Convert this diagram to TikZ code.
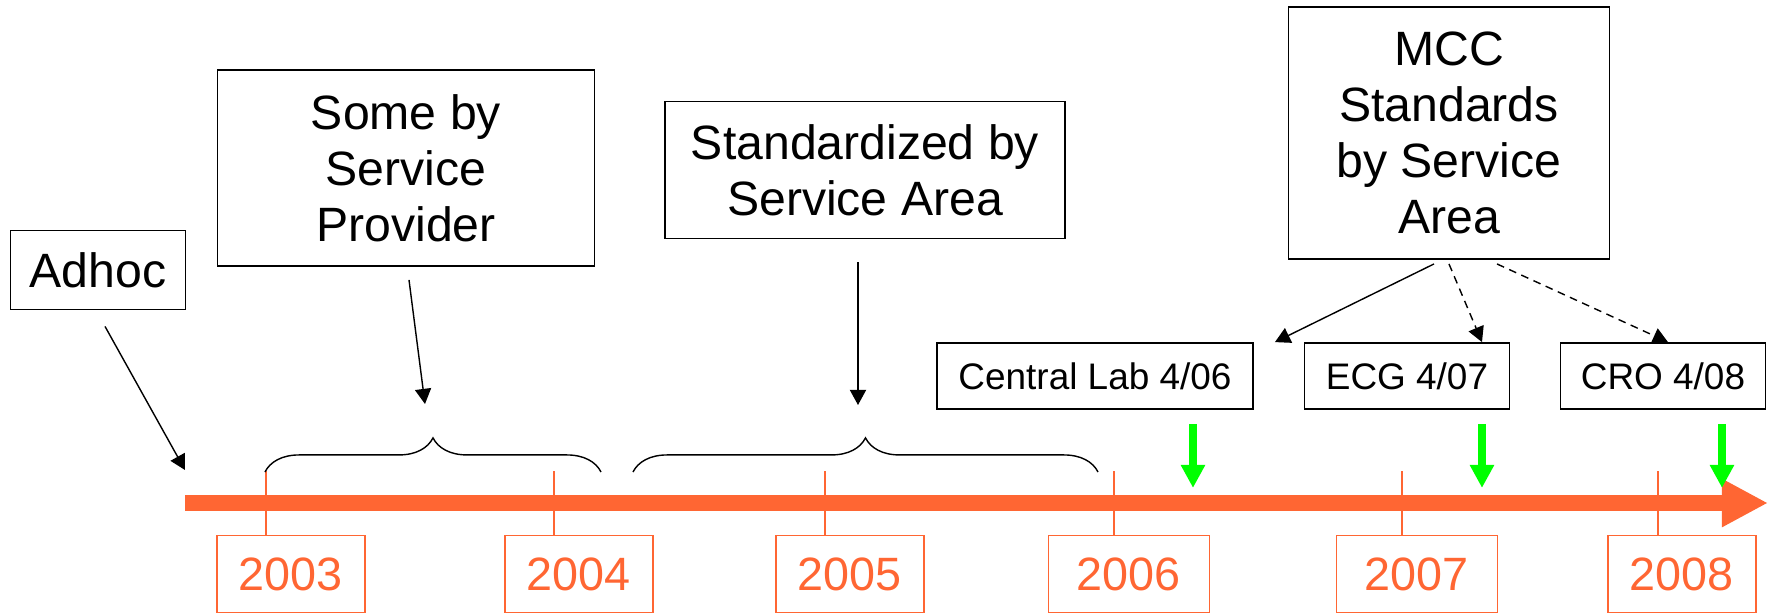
\documentclass[tikz,border=0pt]{standalone}
\usepackage{fontspec}
\setmainfont{Liberation Sans}
\usetikzlibrary{positioning,calc,arrows.meta,decorations.pathreplacing}

\definecolor{tlorange}{RGB}{255,102,51}
\definecolor{tlgreen}{RGB}{0,255,0}

\begin{document}
\begin{tikzpicture}[x=0.01cm, y=-0.01cm,
		box/.style={draw, line width=0.5pt, align=center, inner sep=0pt, font=\fontsize{13.7}{15.9}\selectfont},
		release/.style={draw, line width=0.5pt, inner sep=0pt, minimum height=0.66cm, font=\fontsize{10.5}{12}\selectfont},
		year/.style={draw=tlorange, text=tlorange, line width=0.4pt, inner sep=0pt, minimum height=0.77cm, font=\fontsize{13.3}{15}\selectfont},
		tick/.style={draw=tlorange, line width=0.4pt},
		timeline/.style={draw=tlorange, line width=0.16cm, -{Triangle[length=0.46cm, width=0.45cm]}},
		milestone/.style={draw=tlgreen, line width=0.08cm, -{Triangle[length=0.23cm, width=0.23cm]}},
		link/.style={line width=0.4pt, -{Triangle[length=4.3pt, width=4.6pt]}},
		later/.style={link, dash pattern=on 2.2pt off 1.6pt},
		curly/.style={line width=0.4pt, decorate, decoration={brace, amplitude=9.7pt}}]
		\useasboundingbox (0,0) rectangle (1768,615);

		\node[box, minimum width=1.75cm, minimum height=0.79cm] (adhoc) at (98,270) {Adhoc};
		\node[box, minimum width=3.77cm, minimum height=1.96cm] (provider) at (406,168) {Some by\\Service\\Provider};
		\node[box, minimum width=4cm, minimum height=1.37cm] (area) at (865,170) {Standardized by\\Service Area};
		\node[box, minimum width=3.21cm, minimum height=2.52cm] (mcc) at (1449,133) {MCC\\Standards\\by Service\\Area};

		\node[release, minimum width=3.16cm] (lab) at (1095,376) {Central Lab 4/06};
		\node[release, minimum width=2.05cm] (ecg) at (1407,376) {ECG 4/07};
		\node[release, minimum width=2.05cm] (cro) at (1663,376) {CRO 4/08};

		\node[year, minimum width=1.48cm] (y2003) at (291,574) {2003};
		\node[year, minimum width=1.48cm] (y2004) at (579,574) {2004};
		\node[year, minimum width=1.48cm] (y2005) at (850,574) {2005};
		\node[year, minimum width=1.61cm] (y2006) at (1129,574) {2006};
		\node[year, minimum width=1.61cm] (y2007) at (1417,574) {2007};
		\node[year, minimum width=1.48cm] (y2008) at (1682,574) {2008};

		\coordinate (start) at (185,503);
		\coordinate (end) at (1768,503);
		\coordinate (span1) at (433,438);
		\coordinate (span2) at (865,439);

		\foreach \tx/\yr in {266/2003, 554/2004, 825/2005, 1114/2006, 1402/2007, 1658/2008}
			\draw[tick] (\tx,471) -- (\tx,0 |- y\yr.north);
		\draw[timeline] (start) -- (end);

		\draw[curly] (265,472) -- (601,472);
		\draw[curly] (633,472) -- (1098,472);

		\draw[link] ($(adhoc.south)+(7,16)$) -- ($(start)+(0,-33)$);
		\draw[link] ($(provider.south)+(3,13)$) -- ($(span1)+(-8,-34)$);
		\draw[link] ($(area.south)+(-7,23)$) -- ($(span2)+(-7,-34)$);

		\draw[link] ($(mcc.south)+(-15,4)$) -- ($(lab.north east)+(21,0)$);
		\draw[later] ($(mcc.south)+(0,4)$) -- ($(ecg.north)+(75,0)$);
		\draw[later] ($(mcc.south)+(48,4)$) -- ($(cro.north)+(5,0)$);

		\draw[milestone] ($(lab.south)+(98,14)$) -- ++(0,64);
		\draw[milestone] ($(ecg.south)+(75,14)$) -- ++(0,64);
		\draw[milestone] ($(cro.south)+(59,14)$) -- ++(0,64);
	\end{tikzpicture}
\end{document}
